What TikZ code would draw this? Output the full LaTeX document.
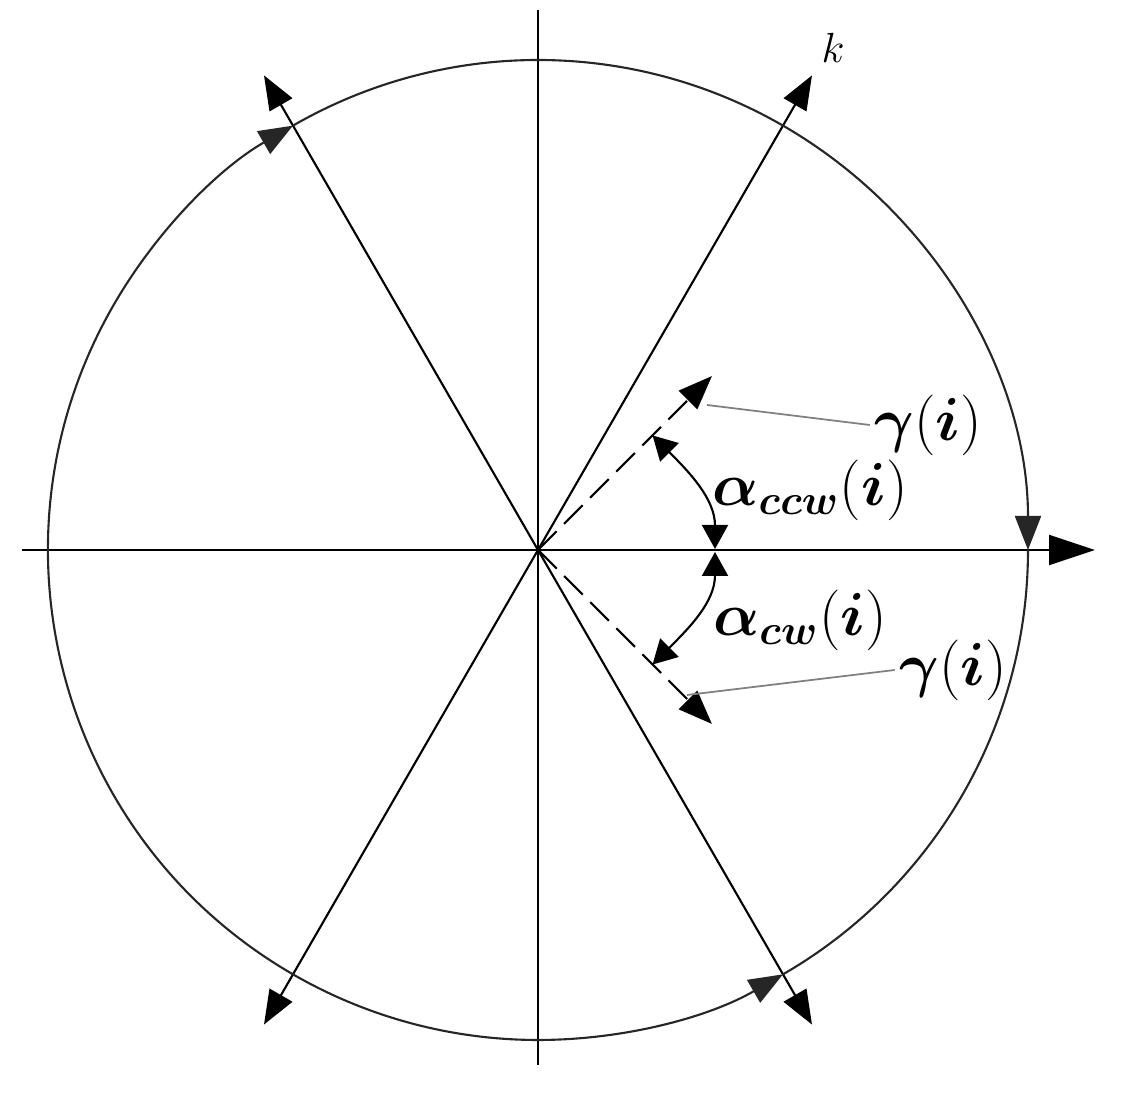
\documentclass[tikz,border=0pt]{standalone}
\usepackage{amsmath,bm}
\usetikzlibrary{arrows.meta}
\usetikzlibrary{calc}

\newcommand{\gami}{$\bm{\gamma}(\bm{i})$}

\begin{document}
\begin{tikzpicture}[line width=0.6pt,
  >={Triangle[length=3.4mm,width=2.6mm]},
  axisarrow/.style={-{Triangle[length=4.6mm,width=3mm]}},
  arcarrow/.style={{Triangle[length=2.4mm,width=2.6mm]}-{Triangle[length=2.4mm,width=2.6mm]}},
  rim/.style={black!85},
  lbl/.style={font=\fontsize{16.5}{20}\selectfont, inner sep=1pt},
  ptr/.style={gray, line width=0.5pt}]
  \useasboundingbox (-5.38,-5.45) rectangle (5.90,5.50);

  \coordinate (O) at (0,0);
  \coordinate (W) at (-5.16,0);
  \coordinate (E) at (5.57,0);
  \coordinate (N) at (0,5.40);
  \coordinate (S) at (0,-5.15);
  \coordinate (K) at (60:5.48);
  \coordinate (L120) at (120:5.48);
  \coordinate (L240) at (240:5.48);
  \coordinate (L300) at (300:5.48);

  % axes
  \draw [axisarrow] (W) -- (E);
  \draw (N) -- (S);
  \draw [<->] (L240) -- (K);
  \draw [<->] (L120) -- (L300);
  \node (klbl) at (2.95,5.02) {\large$k$};

  % circle, in pieces, three of them with arrows
  \coordinate (C0) at (0:4.9);
  \coordinate (C60) at (60:4.9);
  \coordinate (C150) at (150:4.9);
  \coordinate (C270) at (270:4.9);
  \coordinate (C300) at (300:4.9);
  \draw [rim] (C60) arc [start angle=60, end angle=120, radius=4.9];
  \draw [rim] (C150) arc [start angle=150, end angle=270, radius=4.9];
  \draw [rim] (C300) arc [start angle=300, end angle=360, radius=4.9];
  \draw [rim, ->] (C150) arc [start angle=150, end angle=120, radius=4.9];
  \draw [rim, ->] (C60) arc [start angle=60, end angle=0, radius=4.9];
  \draw [rim, ->] (C270) arc [start angle=270, end angle=300, radius=4.9];

  % dashed directions
  \coordinate (G1) at (45:2.46);
  \coordinate (G2) at (-45:2.46);
  \draw [dash pattern=on 7.5pt off 3pt, ->] (O) -- (G1);
  \draw [dash pattern=on 7.5pt off 3pt, ->] (O) -- (G2);

  % angles
  \coordinate (A0) at (1.77,0.01);
  \coordinate (B0) at (1.77,-0.02);
  \coordinate (A1) at (45:1.62);
  \coordinate (A2) at (-45:1.62);
  \draw [arcarrow] (A0) to [out=90, in=-45] (A1);
  \draw [arcarrow] (B0) to [out=-90, in=45] (A2);

  % labels
  \node [lbl] (gu) at (3.90,1.25) {\gami};
  \node [lbl] (acc) at (2.72,0.60) {$\bm{\alpha}_{\bm{ccw}}(\bm{i})$};
  \node [lbl] (acw) at (2.62,-0.70) {$\bm{\alpha}_{\bm{cw}}(\bm{i})$};
  \node [lbl] (gl) at (4.15,-1.20) {\gami};
  \coordinate (P1) at (1.69,1.45);
  \coordinate (P2) at (1.49,-1.45);
  \draw [ptr] (gu.west) -- (P1);
  \draw [ptr] (gl.west) -- (P2);
\end{tikzpicture}
\end{document}
